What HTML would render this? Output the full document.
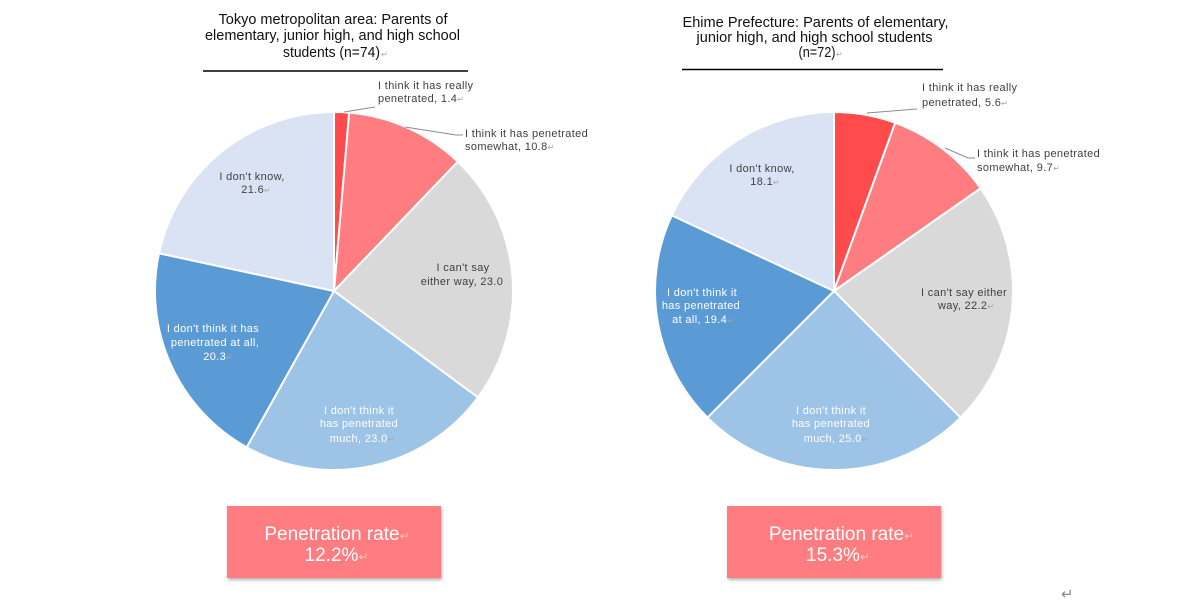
<!DOCTYPE html>
<html>
<head>
<meta charset="utf-8">
<style>
  html,body{margin:0;padding:0;background:#fff;}
  svg{display:block;}
  text{font-family:"Liberation Sans","DejaVu Sans",Arial,sans-serif;}
  .t{font-size:14.5px;fill:#111;}
  .l{font-size:11px;fill:#404040;letter-spacing:0.35px;}
  .w{font-size:11px;fill:#ffffff;letter-spacing:0.35px;}
  .r{fill:#a6a6a6;font-family:"DejaVu Sans",sans-serif;font-size:8px;letter-spacing:0;}
  .b{font-size:19px;fill:#ffffff;}
  .rb{fill:#f2c4c5;font-family:"DejaVu Sans",sans-serif;font-size:12px;}
</style>
</head>
<body>
<svg width="1200" height="606" viewBox="0 0 1200 606" xmlns="http://www.w3.org/2000/svg">
  <defs>
    <filter id="sh" x="-10%" y="-10%" width="130%" height="140%">
      <feDropShadow dx="1" dy="2" stdDeviation="1.5" flood-color="#000" flood-opacity="0.3"/>
    </filter>
  </defs>
  <rect width="1200" height="606" fill="#fff"/>

  <!-- ===== LEFT TITLE ===== -->
  <text class="t" x="333" y="24" text-anchor="middle" textLength="229" lengthAdjust="spacingAndGlyphs">Tokyo metropolitan area: Parents of</text>
  <text class="t" x="332.5" y="40" text-anchor="middle" textLength="255" lengthAdjust="spacingAndGlyphs">elementary, junior high, and high school</text>
  <text class="t" x="283" y="57" textLength="97" lengthAdjust="spacingAndGlyphs">students (n=74)</text>
  <text class="r" x="381" y="57">↵</text>
  <line x1="203" y1="71" x2="468" y2="71" stroke="#000" stroke-width="1.6"/>

  <!-- ===== LEFT PIE ===== -->
  <g stroke="#fff" stroke-width="2" stroke-linejoin="round">
    <path d="M334,291 L334,112 A179,179 0 0,1 349.18,112.64 Z" fill="#FF4B4B"/>
    <path d="M334,291 L349.18,112.64 A179,179 0 0,1 457.83,161.74 Z" fill="#FF7C80"/>
    <path d="M334,291 L457.83,161.74 A179,179 0 0,1 477.9,397.47 Z" fill="#D9D9D9"/>
    <path d="M334,291 L477.9,397.47 A179,179 0 0,1 246.7,447.27 Z" fill="#9DC3E6"/>
    <path d="M334,291 L246.7,447.27 A179,179 0 0,1 159.0,253.3 Z" fill="#5B9BD5"/>
    <path d="M334,291 L159.0,253.3 A179,179 0 0,1 334,112 Z" fill="#DAE3F3"/>
  </g>
  <!-- leaders -->
  <polyline points="344,112 375,107" fill="none" stroke="#8c8c8c" stroke-width="1"/>
  <polyline points="405,127 456,135 463,135" fill="none" stroke="#8c8c8c" stroke-width="1"/>
  <!-- outside labels -->
  <text class="l" x="378" y="89">I think it has really</text>
  <text class="l" x="378" y="102">penetrated, 1.4<tspan class="r">↵</tspan></text>
  <text class="l" x="465" y="137">I think it has penetrated</text>
  <text class="l" x="465" y="150">somewhat, 10.8<tspan class="r">↵</tspan></text>
  <!-- inside labels -->
  <text class="l" x="252" y="180" text-anchor="middle">I don't know,</text>
  <text class="l" x="256" y="193" text-anchor="middle">21.6<tspan class="r">↵</tspan></text>
  <text class="l" x="463" y="271" text-anchor="middle">I can't say</text>
  <text class="l" x="462" y="285" text-anchor="middle">either way, 23.0</text>
  <text class="w" x="213" y="332" text-anchor="middle">I don't think it has</text>
  <text class="w" x="215" y="346" text-anchor="middle">penetrated at all,</text>
  <text class="w" x="218" y="360" text-anchor="middle">20.3<tspan class="r" fill="#c8dcf0">↵</tspan></text>
  <text class="w" x="359" y="414" text-anchor="middle">I don't think it</text>
  <text class="w" x="359" y="427" text-anchor="middle">has penetrated</text>
  <text class="w" x="362" y="442" text-anchor="middle">much, 23.0<tspan class="r" fill="#e0ecf8">↵</tspan></text>

  <!-- LEFT BOX -->
  <rect x="227" y="506" width="214" height="72" fill="#FF7C80" filter="url(#sh)"/>
  <text class="b" x="337" y="540" text-anchor="middle">Penetration rate<tspan class="rb">↵</tspan></text>
  <text class="b" x="336.5" y="561" text-anchor="middle">12.2%<tspan class="rb">↵</tspan></text>

  <!-- ===== RIGHT TITLE ===== -->
  <text class="t" x="815.5" y="27" text-anchor="middle" textLength="266" lengthAdjust="spacingAndGlyphs">Ehime Prefecture: Parents of elementary,</text>
  <text class="t" x="814.5" y="42" text-anchor="middle" textLength="236" lengthAdjust="spacingAndGlyphs">junior high, and high school students</text>
  <text class="t" x="798.5" y="57" textLength="37" lengthAdjust="spacingAndGlyphs">(n=72)</text>
  <text class="r" x="836" y="57">↵</text>
  <line x1="682" y1="69.5" x2="943" y2="69.5" stroke="#000" stroke-width="1.6"/>

  <!-- ===== RIGHT PIE ===== -->
  <g stroke="#fff" stroke-width="2" stroke-linejoin="round">
    <path d="M834,291 L834,112 A179,179 0 0,1 895.22,122.8 Z" fill="#FF4B4B"/>
    <path d="M834,291 L895.22,122.8 A179,179 0 0,1 980.6,188.3 Z" fill="#FF7C80"/>
    <path d="M834,291 L980.6,188.3 A179,179 0 0,1 960.57,417.57 Z" fill="#D9D9D9"/>
    <path d="M834,291 L960.57,417.57 A179,179 0 0,1 707.43,417.57 Z" fill="#9DC3E6"/>
    <path d="M834,291 L707.43,417.57 A179,179 0 0,1 671.8,215.35 Z" fill="#5B9BD5"/>
    <path d="M834,291 L671.8,215.35 A179,179 0 0,1 834,112 Z" fill="#DAE3F3"/>
  </g>
  <!-- leaders -->
  <polyline points="867,113 917,109" fill="none" stroke="#8c8c8c" stroke-width="1"/>
  <polyline points="945,148 968,158 975,158" fill="none" stroke="#8c8c8c" stroke-width="1"/>
  <!-- outside labels -->
  <text class="l" x="922" y="91">I think it has really</text>
  <text class="l" x="922" y="106">penetrated, 5.6<tspan class="r">↵</tspan></text>
  <text class="l" x="977" y="157">I think it has penetrated</text>
  <text class="l" x="977" y="171">somewhat, 9.7<tspan class="r">↵</tspan></text>
  <!-- inside labels -->
  <text class="l" x="762" y="172" text-anchor="middle">I don't know,</text>
  <text class="l" x="765" y="185" text-anchor="middle">18.1<tspan class="r">↵</tspan></text>
  <text class="w" x="702" y="296" text-anchor="middle">I don't think it</text>
  <text class="w" x="701" y="309" text-anchor="middle">has penetrated</text>
  <text class="w" x="703" y="323" text-anchor="middle">at all, 19.4<tspan class="r" fill="#c8dcf0">↵</tspan></text>
  <text class="l" x="964" y="296" text-anchor="middle">I can't say either</text>
  <text class="l" x="966" y="309" text-anchor="middle">way, 22.2<tspan class="r">↵</tspan></text>
  <text class="w" x="831" y="414" text-anchor="middle">I don't think it</text>
  <text class="w" x="831" y="427" text-anchor="middle">has penetrated</text>
  <text class="w" x="836" y="442" text-anchor="middle">much, 25.0<tspan class="r" fill="#e0ecf8">↵</tspan></text>

  <!-- RIGHT BOX -->
  <rect x="727" y="506" width="214" height="72" fill="#FF7C80" filter="url(#sh)"/>
  <text class="b" x="841.5" y="540" text-anchor="middle">Penetration rate<tspan class="rb">↵</tspan></text>
  <text class="b" x="838" y="561" text-anchor="middle">15.3%<tspan class="rb">↵</tspan></text>

  <!-- stray return mark -->
  <text x="1061" y="599" fill="#8a8a8a" style="font-family:'DejaVu Sans',sans-serif;font-size:15px;">↵</text>
</svg>
</body>
</html>
